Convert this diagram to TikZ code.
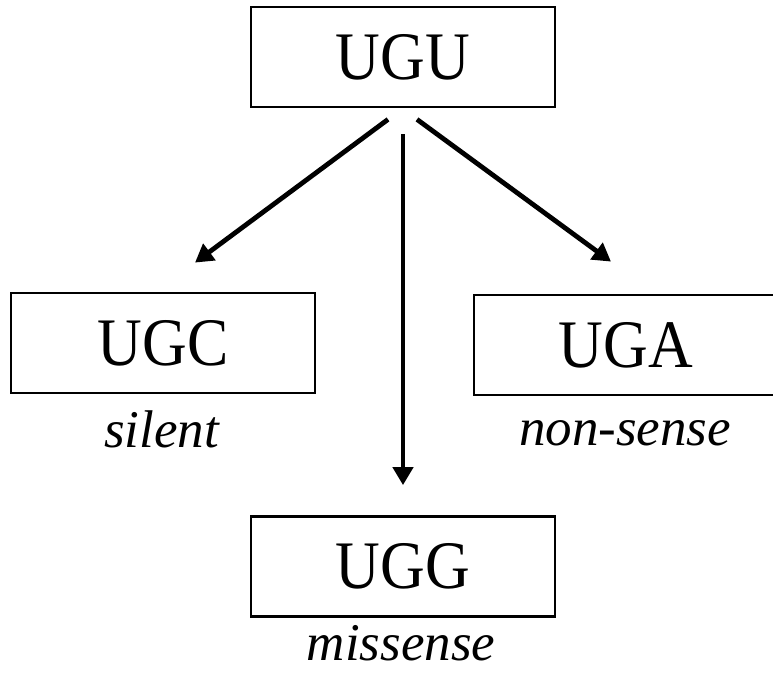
\documentclass[tikz,border=0pt]{standalone}
\usepackage{fontspec}
\setmainfont{Liberation Serif}
\newfontfamily\codonfont{Liberation Serif}[FakeStretch=0.91]
\usepackage{tikz}
\usetikzlibrary{calc}
\usetikzlibrary{arrows.meta}

\tikzset{
    codon/.style={draw=black, line width=1.4pt, minimum width=152pt, minimum height=50pt, inner sep=0pt, font=\codonfont\fontsize{34}{34}\selectfont},
    effect/.style={anchor=base, inner sep=0pt, font=\itshape\fontsize{26.5}{26.5}\selectfont},
    mut/.style={line width=2.4pt, -{Triangle[length=9pt,width=10pt]}}
}

\begin{document}
\begin{tikzpicture}[x=0.5pt,y=-0.5pt]
        \useasboundingbox (0,0) rectangle (773,676);

        \node[codon] (ugu) at (403,57) {UGU};
        \node[codon] (ugc) at (163,343) {UGC};
        \node[codon] (uga) at (626,345) {UGA};
        \node[codon] (ugg) at (403,566.5) {UGG};

        \node[effect] (silent) at (161.5,447) {silent};
        \node[effect] (nonsense) at (625,445) {non-sense};
        \node[effect] (missense) at (401,660) {missense};

        %\draw[mut] (ugu) -- (ugc);
        \draw[mut] ($(ugu.south)+(-15,11)$) -- ($(ugc.north)+(32,-29)$);
        \draw[mut] ($(ugu.south)+(0,26)$) -- ($(ugg.north)+(0,-30)$);
        \draw[mut] ($(ugu.south)+(14,11)$) -- ($(uga.north)+(-15,-32)$);
    \end{tikzpicture}
\end{document}
